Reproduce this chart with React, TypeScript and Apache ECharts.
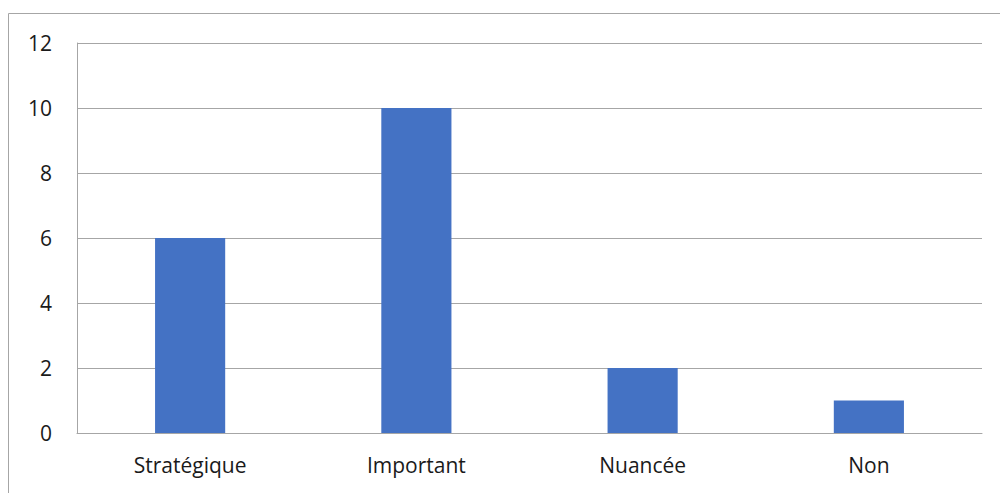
import React, { useEffect, useRef } from "react";
import * as echarts from "echarts";

const categories = ["Stratégique", "Important", "Nuancée", "Non"];
const values = [6, 10, 2, 1];
const yMin = 0;
const yMax = 12;
const yInterval = 2;

export default function App() {
  const ref = useRef<HTMLDivElement>(null);
  useEffect(() => {
    document.body.style.margin = "0";
    const chart = echarts.init(ref.current!, null, { renderer: "svg" });
    const font = "'Open Sans', sans-serif";
    chart.setOption({
      animation: false,
      grid: { left: 77, right: 18, top: 43, bottom: 60, containLabel: false },
      xAxis: {
        type: "category",
        data: categories,
        axisLine: { show: true, lineStyle: { color: "#a6a6a6", width: 1 } },
        axisTick: { show: false },
        axisLabel: { color: "#1a1a1a", fontSize: 21, fontFamily: font, margin: 21 },
      },
      yAxis: {
        type: "value",
        min: yMin,
        max: yMax,
        interval: yInterval,
        axisLine: { show: true, lineStyle: { color: "#a6a6a6", width: 1 } },
        axisTick: { show: false },
        splitLine: { show: true, lineStyle: { color: "#a6a6a6", width: 1 } },
        axisLabel: { color: "#1a1a1a", fontSize: 21, fontFamily: font, margin: 25 },
      },
      series: [
        {
          type: "bar",
          data: values,
          barWidth: "31%",
          itemStyle: { color: "#4472C4" },
        },
      ],
      graphic: [
        { type: "line", shape: { x1: 8.5, y1: 13.5, x2: 1000, y2: 13.5 }, style: { stroke: "#a6a6a6", lineWidth: 1 } },
        { type: "line", shape: { x1: 8.5, y1: 13.5, x2: 8.5, y2: 493 }, style: { stroke: "#a6a6a6", lineWidth: 1 } },
      ],
    });
    return () => chart.dispose();
  }, []);
  return <div ref={ref} style={{ width: 1000, height: 493 }} />;
}
